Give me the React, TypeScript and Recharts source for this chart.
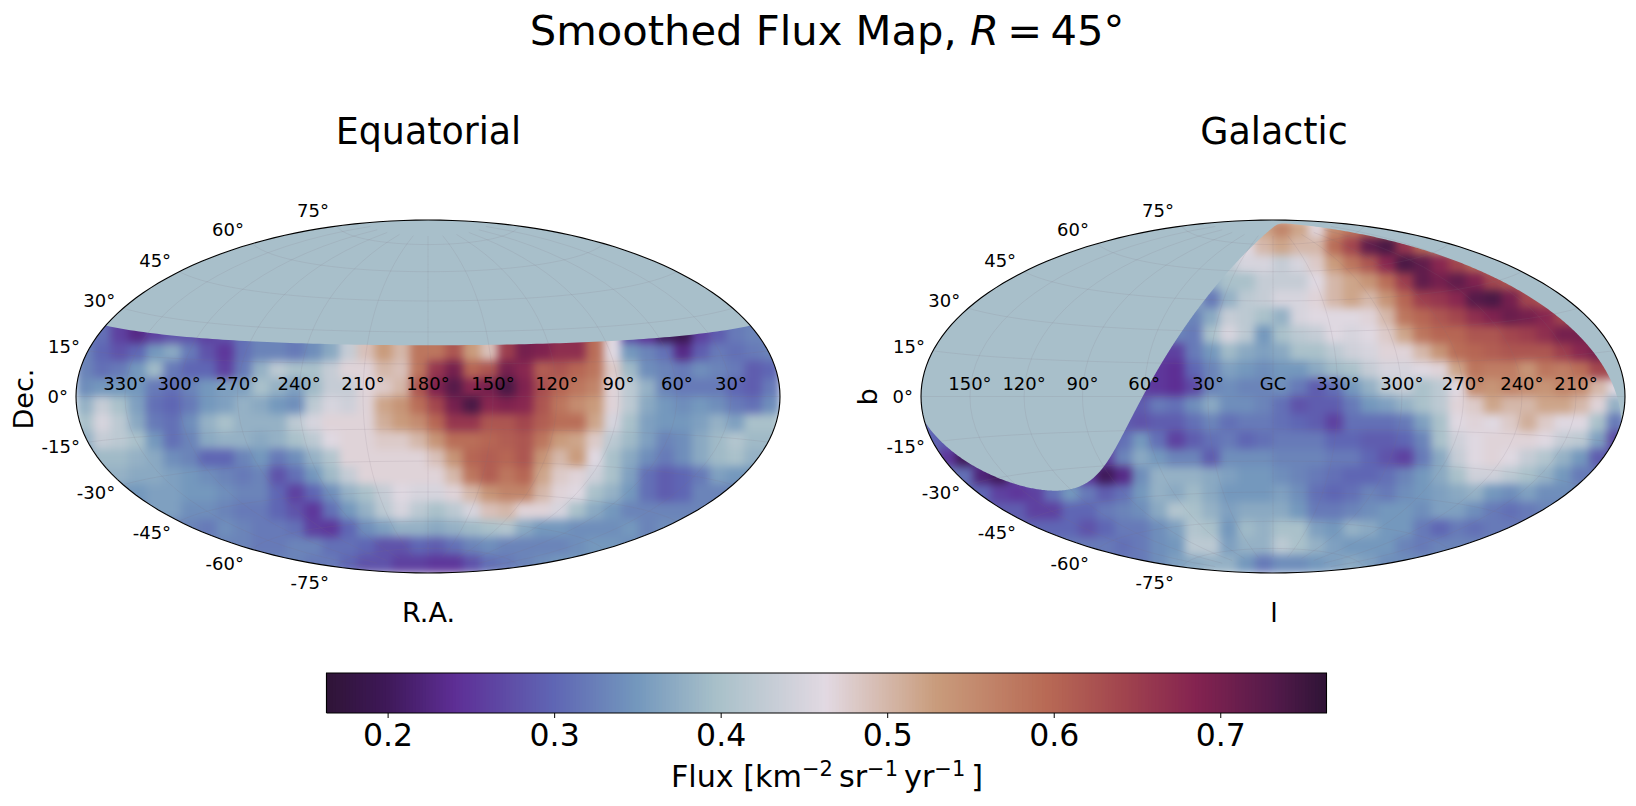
import { Scatter, ScatterChart, XAxis, YAxis } from "recharts";

const FONT = "'DejaVu Sans', sans-serif";

const EQUATORIAL_FLUX: number[][] = [
  [],
  [],
  [],
  [],
  [],
  [32, 31, 26, 23, 26, 28, 28, 26, 28, 31, 33, 33, 32, 34, 37, 43, 49, 53, 50, 58, 58, 62, 53, 49, 65, 70, 69, 67, 67, 59, 46, 27, 24, 20, 19, 26, 29, 32, 33, 33],
  [32, 31, 26, 23, 26, 28, 28, 26, 28, 31, 33, 33, 32, 34, 37, 43, 49, 53, 50, 58, 58, 62, 53, 49, 65, 70, 69, 67, 67, 59, 46, 27, 24, 20, 19, 26, 29, 32, 33, 33],
  [33, 30, 28, 30, 35, 37, 32, 28, 25, 31, 33, 33, 32, 34, 37, 43, 49, 53, 50, 58, 58, 62, 53, 49, 65, 70, 69, 67, 67, 59, 46, 35, 33, 31, 23, 29, 32, 31, 32, 33],
  [33, 31, 32, 35, 39, 32, 30, 30, 26, 32, 38, 42, 40, 40, 43, 47, 47, 50, 49, 58, 66, 70, 60, 62, 70, 68, 61, 62, 60, 58, 48, 39, 34, 33, 32, 34, 33, 32, 29, 30],
  [34, 35, 35, 35, 32, 31, 33, 35, 36, 36, 40, 38, 36, 39, 43, 43, 47, 48, 50, 62, 69, 73, 68, 70, 74, 69, 63, 60, 58, 56, 47, 42, 38, 33, 32, 32, 32, 30, 29, 32],
  [38, 43, 40, 36, 31, 30, 32, 35, 36, 38, 37, 35, 34, 42, 45, 44, 47, 52, 54, 59, 64, 70, 74, 68, 69, 68, 62, 58, 55, 53, 47, 42, 37, 35, 34, 35, 34, 32, 31, 34],
  [40, 45, 42, 37, 32, 31, 34, 38, 40, 38, 38, 38, 42, 45, 47, 47, 47, 51, 53, 55, 60, 66, 66, 62, 62, 64, 61, 59, 59, 52, 45, 40, 36, 35, 35, 36, 38, 36, 40, 40],
  [38, 43, 42, 40, 35, 31, 33, 37, 38, 38, 37, 38, 40, 42, 46, 47, 47, 48, 48, 50, 54, 59, 59, 60, 61, 62, 58, 53, 52, 48, 42, 39, 36, 33, 34, 37, 39, 41, 39, 39],
  [37, 39, 39, 38, 37, 34, 33, 30, 30, 33, 35, 32, 34, 38, 41, 47, 47, 47, 47, 47, 49, 54, 60, 61, 60, 62, 54, 50, 53, 46, 40, 37, 34, 32, 34, 37, 39, 40, 38, 38],
  [38, 38, 38, 37, 37, 36, 35, 34, 33, 32, 33, 28, 31, 35, 39, 43, 47, 47, 47, 47, 47, 50, 58, 61, 58, 60, 52, 48, 47, 44, 40, 36, 31, 29, 30, 32, 36, 35, 35, 35],
  [35, 35, 35, 35, 36, 36, 35, 35, 34, 33, 33, 30, 26, 30, 34, 38, 40, 43, 46, 45, 45, 47, 50, 54, 56, 56, 50, 47, 46, 40, 38, 35, 31, 29, 30, 33, 33, 33, 33, 33],
  [34, 34, 34, 34, 36, 36, 34, 34, 33, 32, 32, 30, 28, 25, 31, 35, 38, 42, 45, 42, 40, 42, 45, 49, 50, 47, 47, 45, 40, 37, 35, 33, 33, 33, 33, 33, 33, 33, 33, 33],
  [33, 33, 33, 33, 33, 33, 33, 32, 34, 33, 32, 32, 31, 26, 25, 30, 34, 36, 38, 38, 37, 38, 39, 40, 41, 37, 35, 35, 34, 34, 34, 35, 33, 34, 34, 34, 34, 34, 34, 34],
  [33, 33, 33, 33, 33, 33, 33, 33, 33, 33, 32, 32, 33, 33, 31, 31, 30, 28, 28, 30, 29, 31, 33, 34, 33, 33, 33, 33, 34, 35, 35, 34, 34, 34, 34, 34, 34, 34, 34, 34],
  [33, 33, 33, 33, 33, 33, 33, 33, 33, 33, 33, 33, 33, 32, 32, 30, 28, 28, 26, 26, 25, 25, 28, 31, 32, 33, 34, 35, 35, 35, 35, 35, 35, 35, 35, 35, 35, 35, 35, 35],
];

const GALACTIC_FLUX: number[][] = [
  [46, 46, 46, 46, 46, 46, 46, 46, 46, 46, 46, 46, 46, 46, 46, 46, 46, 46, 46, 52, 56, 52, 47, 55, 58, 60, 60, 60, 60, 60, 60, 60, 60, 60, 60, 60, 60, 60, 60, 60],
  [44, 44, 44, 44, 44, 44, 44, 44, 44, 44, 44, 44, 44, 44, 44, 44, 44, 44, 46, 50, 52, 50, 50, 59, 64, 72, 74, 66, 60, 55, 55, 55, 55, 55, 55, 55, 55, 55, 55, 55],
  [40, 40, 40, 40, 40, 40, 40, 40, 40, 40, 40, 40, 40, 40, 40, 40, 40, 42, 45, 45, 43, 45, 48, 53, 58, 62, 68, 74, 72, 68, 64, 60, 58, 56, 56, 56, 56, 56, 56, 56],
  [38, 38, 38, 38, 38, 38, 38, 38, 38, 38, 38, 38, 38, 38, 38, 38, 38, 40, 40, 43, 43, 43, 46, 50, 52, 54, 59, 65, 72, 70, 72, 69, 64, 62, 60, 58, 58, 58, 58, 58],
  [36, 36, 36, 36, 36, 36, 36, 36, 36, 36, 36, 36, 36, 36, 36, 38, 32, 38, 42, 43, 45, 45, 47, 50, 52, 50, 54, 60, 65, 66, 68, 73, 74, 70, 64, 62, 60, 60, 60, 60],
  [35, 35, 35, 35, 35, 35, 35, 35, 35, 35, 35, 35, 35, 35, 35, 33, 37, 43, 42, 40, 38, 45, 46, 46, 46, 47, 50, 58, 60, 62, 64, 67, 69, 71, 70, 68, 64, 62, 62, 62],
  [32, 32, 32, 32, 32, 32, 32, 32, 32, 32, 32, 32, 32, 32, 33, 32, 40, 45, 42, 35, 40, 42, 43, 46, 45, 46, 48, 52, 58, 60, 60, 62, 62, 64, 65, 67, 70, 70, 64, 60],
  [28, 28, 28, 28, 28, 28, 28, 28, 28, 28, 28, 28, 27, 26, 26, 32, 35, 39, 37, 36, 37, 40, 40, 42, 44, 45, 47, 47, 50, 54, 59, 60, 61, 62, 62, 62, 65, 68, 70, 62],
  [26, 26, 26, 26, 26, 26, 26, 26, 26, 26, 26, 26, 26, 25, 24, 30, 33, 36, 35, 34, 35, 35, 37, 39, 40, 43, 45, 45, 46, 47, 52, 58, 57, 57, 54, 58, 57, 59, 64, 64],
  [30, 30, 30, 30, 30, 30, 30, 30, 30, 30, 30, 30, 26, 25, 24, 27, 33, 34, 33, 33, 34, 32, 29, 31, 35, 38, 42, 43, 40, 42, 46, 55, 54, 56, 55, 54, 56, 55, 50, 46],
  [29, 29, 29, 29, 29, 29, 29, 29, 29, 29, 29, 29, 29, 32, 31, 34, 37, 34, 34, 33, 31, 28, 29, 29, 32, 35, 36, 38, 40, 42, 47, 48, 52, 50, 50, 52, 52, 50, 47, 38],
  [30, 30, 30, 30, 30, 30, 30, 30, 30, 30, 30, 29, 28, 29, 29, 31, 33, 31, 32, 32, 31, 30, 29, 26, 31, 31, 31, 32, 36, 40, 46, 47, 46, 48, 51, 48, 46, 46, 40, 32],
  [30, 29, 28, 28, 28, 28, 28, 28, 28, 28, 28, 31, 35, 31, 26, 29, 31, 32, 30, 31, 32, 32, 32, 30, 30, 29, 29, 30, 33, 40, 44, 46, 47, 47, 47, 46, 43, 42, 36, 27],
  [32, 25, 20, 25, 25, 25, 25, 25, 25, 29, 26, 33, 37, 35, 33, 33, 29, 34, 34, 34, 33, 33, 33, 32, 32, 30, 28, 26, 32, 37, 43, 46, 47, 46, 43, 41, 38, 35, 29, 28],
  [32, 32, 31, 22, 20, 26, 30, 30, 30, 25, 20, 23, 34, 38, 38, 38, 37, 36, 35, 35, 34, 33, 32, 31, 30, 30, 31, 33, 35, 37, 40, 44, 44, 42, 40, 38, 35, 32, 32, 32],
  [30, 30, 30, 30, 26, 25, 26, 31, 35, 32, 29, 31, 35, 38, 37, 39, 37, 35, 35, 35, 36, 34, 31, 30, 31, 33, 32, 34, 35, 36, 37, 38, 35, 34, 36, 34, 34, 34, 34, 34],
  [29, 29, 29, 29, 29, 29, 26, 26, 30, 30, 32, 33, 34, 37, 41, 40, 38, 36, 37, 37, 37, 35, 32, 32, 33, 34, 35, 35, 34, 36, 36, 34, 32, 31, 32, 33, 33, 33, 33, 33],
  [30, 30, 30, 30, 30, 30, 30, 30, 30, 28, 30, 32, 32, 34, 36, 41, 40, 35, 39, 38, 40, 40, 36, 35, 38, 37, 35, 35, 32, 30, 32, 31, 32, 32, 32, 32, 32, 32, 32, 32],
  [32, 32, 32, 32, 32, 32, 32, 32, 32, 32, 32, 31, 32, 34, 35, 42, 42, 36, 38, 38, 42, 40, 38, 36, 35, 35, 35, 33, 32, 33, 33, 33, 33, 33, 33, 33, 33, 33, 33, 33],
  [32, 32, 32, 32, 32, 32, 32, 32, 32, 32, 32, 32, 32, 34, 36, 37, 38, 38, 35, 32, 34, 34, 35, 36, 37, 36, 34, 34, 34, 34, 34, 34, 34, 34, 34, 34, 34, 34, 34, 34],
];

const EQUATORIAL_LON_LABELS = ["330°", "300°", "270°", "240°", "210°", "180°", "150°", "120°", "90°", "60°", "30°"];
const GALACTIC_LON_LABELS = ["150°", "120°", "90°", "60°", "30°", "GC", "330°", "300°", "270°", "240°", "210°"];
const LON_TICKS = [-150, -120, -90, -60, -30, 0, 30, 60, 90, 120, 150];
const LAT_TICKS = [75, 60, 45, 30, 15, 0, -15, -30, -45, -60, -75];
const COLORBAR_TICKS = [0.2, 0.3, 0.4, 0.5, 0.6, 0.7];

const FLUX_MIN = 0.163;
const FLUX_MAX = 0.7635;
const FOV_DEC_EQUATORIAL = 23.7;
const FOV_DEC_GALACTIC = 24.5;
const NO_DATA = "#a8bfca";
const GRID_COLOR = "rgba(120,110,120,0.13)";

// twilight_shifted, stops taken from the colorbar
const CMAP: [number, number[]][] = [
  [0, [47, 20, 54]],
  [0.06, [62, 24, 88]],
  [0.13, [94, 47, 150]],
  [0.228, [95, 102, 180]],
  [0.31, [115, 151, 189]],
  [0.39, [168, 192, 201]],
  [0.5, [226, 217, 226]],
  [0.61, [201, 156, 124]],
  [0.72, [184, 106, 85]],
  [0.8, [160, 67, 78]],
  [0.87, [132, 35, 80]],
  [0.95, [82, 26, 74]],
  [1, [47, 20, 54]],
];

function fluxColor(flux: number) {
  const t = Math.min(1, Math.max(0, (flux - FLUX_MIN) / (FLUX_MAX - FLUX_MIN)));
  let i = 0;
  while (i < CMAP.length - 2 && CMAP[i + 1][0] < t) i++;
  const [t0, c0] = CMAP[i];
  const [t1, c1] = CMAP[i + 1];
  const f = (t - t0) / (t1 - t0);
  return `rgb(${c0.map((c, k) => Math.round(c + (c1[k] - c) * f)).join(",")})`;
}

const RAD = Math.PI / 180;
const SQRT2 = Math.SQRT2;

function hammer(lon: number, lat: number) {
  const phi = lat * RAD;
  const lam = lon * RAD;
  const d = Math.sqrt(1 + Math.cos(phi) * Math.cos(lam / 2));
  return {
    x: (2 * SQRT2 * Math.cos(phi) * Math.sin(lam / 2)) / d,
    y: (SQRT2 * Math.sin(phi)) / d,
  };
}

function range(from: number, to: number, step: number) {
  const out: number[] = [];
  for (let v = from; step > 0 ? v <= to + 1e-9 : v >= to - 1e-9; v += step) out.push(v);
  return out;
}

const ellipse = [
  ...range(-90, 90, 2).map((b) => hammer(-180, b)),
  ...range(90, -90, -2).map((b) => hammer(180, b)),
];
ellipse.push(ellipse[0]);

const meridians = LON_TICKS.map((lon) => range(-80, 80, 4).map((b) => hammer(lon, b)));
const parallels = LAT_TICKS.map((lat) => range(-180, 180, 5).map((l) => hammer(l, lat)));

function closeOverTop(curve: { x: number; y: number }[], latLeft: number, latRight: number) {
  return [
    ...curve,
    ...range(latRight, 90, 2).map((b) => hammer(180, b)),
    ...range(90, latLeft, -2).map((b) => hammer(-180, b)),
  ];
}

const equatorialMask = closeOverTop(
  range(-180, 180, 3).map((l) => hammer(l, FOV_DEC_EQUATORIAL)),
  FOV_DEC_EQUATORIAL,
  FOV_DEC_EQUATORIAL
);

// same declination limit carried over to galactic coordinates
function buildGalacticMask() {
  const sd = Math.sin(FOV_DEC_GALACTIC * RAD);
  const cd = Math.cos(FOV_DEC_GALACTIC * RAD);
  const sg = Math.sin(27.13 * RAD);
  const cg = Math.cos(27.13 * RAD);
  const pts = range(0, 359.5, 0.5).map((a) => {
    const da = (a - 192.86) * RAD;
    const b = Math.asin(sd * sg + cd * cg * Math.cos(da)) / RAD;
    let l = 122.93 - Math.atan2(cd * Math.sin(da), sd * cg - cd * sg * Math.cos(da)) / RAD;
    l = ((l + 540) % 360) - 180;
    return { lon: -l, lat: b };
  });
  let jump = 0;
  pts.forEach((p, i) => {
    const prev = pts[(i + pts.length - 1) % pts.length];
    if (Math.abs(p.lon - prev.lon) > 180) jump = i;
  });
  let curve = [...pts.slice(jump), ...pts.slice(0, jump)];
  if (curve[0].lon > 0) curve = curve.reverse();
  return closeOverTop(
    curve.map((p) => hammer(p.lon, p.lat)),
    curve[0].lat,
    curve[curve.length - 1].lat
  );
}
const galacticMask = buildGalacticMask();

const COLS = 40;
const ROWS = 20;
const PX_X = 124.45;
const PX_Y = 124.8;
const PAD_X = 3.02;
const PAD_Y = 1.604;
const CELL_W = (4 * SQRT2 * PX_X) / COLS + 1;
const CELL_H = (2 * SQRT2 * PX_Y) / ROWS + 1;

// outer box wound against the ellipse so the fill leaves a hole for the map
const frame = [
  { x: -PAD_X, y: -PAD_Y },
  { x: PAD_X, y: -PAD_Y },
  { x: PAD_X, y: PAD_Y },
  { x: -PAD_X, y: PAD_Y },
  { x: -PAD_X, y: -PAD_Y },
  ...ellipse,
  { x: -PAD_X, y: -PAD_Y },
];

function toCells(rows: number[][]) {
  return rows.flatMap((row, i) =>
    row.map((v, j) => ({
      x: -2 * SQRT2 + (4 * SQRT2 * (j + 0.5)) / COLS,
      y: SQRT2 - (2 * SQRT2 * (i + 0.5)) / ROWS,
      flux: v / 100,
    }))
  );
}

const noPoint = () => <g />;

const CellShape = (p: any) => (
  <rect x={p.cx - CELL_W / 2} y={p.cy - CELL_H / 2} width={CELL_W} height={CELL_H} fill={fluxColor(p.payload.flux)} />
);

const LonLabel = (p: any) => (
  <text x={p.cx} y={p.cy - 13} textAnchor="middle" dominantBaseline="central" fontSize={18} fontFamily={FONT} fill="#000">
    {p.payload.label}
  </text>
);

const LatLabel = (p: any) => (
  <text
    x={p.cx - 8}
    y={p.cy - 16.5 * Math.sin(p.payload.lat * RAD)}
    textAnchor="end"
    dominantBaseline="central"
    fontSize={18}
    fontFamily={FONT}
    fill="#000"
  >
    {p.payload.label}
  </text>
);

function SkyMap({
  left,
  rows,
  mask,
  lonLabels,
}: {
  left: number;
  rows: number[][];
  mask: { x: number; y: number }[];
  lonLabels: string[];
}) {
  const plotW = 2 * PAD_X * PX_X;
  const plotH = 2 * PAD_Y * PX_Y;
  const chartW = 840;
  const chartH = 470;
  const centreX = 420;
  const centreY = 396.5 - 160;
  const lonData = LON_TICKS.map((lon, i) => ({ ...hammer(lon, 0), label: lonLabels[i] }));
  const latData = LAT_TICKS.map((lat) => ({ ...hammer(-180, lat), lat, label: `${lat}°` }));
  return (
    <div style={{ position: "absolute", left, top: 160 }}>
      <ScatterChart
        width={chartW}
        height={chartH}
        margin={{
          left: centreX - plotW / 2,
          right: chartW - centreX - plotW / 2,
          top: centreY - plotH / 2,
          bottom: chartH - centreY - plotH / 2,
        }}
      >
        <XAxis type="number" dataKey="x" domain={[-PAD_X, PAD_X]} hide />
        <YAxis type="number" dataKey="y" domain={[-PAD_Y, PAD_Y]} hide />
        <Scatter className="flux-cells" data={toCells(rows)} shape={CellShape} isAnimationActive={false} />
        <Scatter data={mask} shape={noPoint} line={{ fill: NO_DATA, stroke: "none" }} isAnimationActive={false} />
        <Scatter data={frame} shape={noPoint} line={{ fill: "#fff", stroke: "none" }} isAnimationActive={false} />
        {meridians.map((pts, i) => (
          <Scatter key={`m${i}`} data={pts} shape={noPoint} line={{ stroke: GRID_COLOR, strokeWidth: 1, fill: "none" }} isAnimationActive={false} />
        ))}
        {parallels.map((pts, i) => (
          <Scatter key={`p${i}`} data={pts} shape={noPoint} line={{ stroke: GRID_COLOR, strokeWidth: 1, fill: "none" }} isAnimationActive={false} />
        ))}
        <Scatter data={ellipse} shape={noPoint} line={{ stroke: "#000", strokeWidth: 1.1, fill: "none" }} isAnimationActive={false} />
        <Scatter data={lonData} shape={LonLabel} isAnimationActive={false} />
        <Scatter data={latData} shape={LatLabel} isAnimationActive={false} />
      </ScatterChart>
    </div>
  );
}

const colorbarLevels = range(FLUX_MIN + 0.001, FLUX_MAX - 0.001, 0.002).map((flux) => ({ flux, y: 0.5 }));
const colorbarBox = [
  { flux: FLUX_MIN, y: 0 },
  { flux: FLUX_MIN, y: 1 },
  { flux: FLUX_MAX, y: 1 },
  { flux: FLUX_MAX, y: 0 },
  { flux: FLUX_MIN, y: 0 },
];

const ColorbarCell = (p: any) => (
  <rect x={p.cx - 2.2} y={p.cy - 20} width={4.4} height={40} fill={fluxColor(p.payload.flux)} />
);

function Colorbar() {
  return (
    <div style={{ position: "absolute", left: 300, top: 660 }}>
      <ScatterChart width={1060} height={115} margin={{ left: 26.5, right: 33.5, top: 13, bottom: 0 }}>
        <XAxis
          type="number"
          dataKey="flux"
          domain={[FLUX_MIN, FLUX_MAX]}
          ticks={COLORBAR_TICKS}
          interval={0}
          height={62}
          axisLine={false}
          tickSize={5}
          tickMargin={6}
          tickLine={{ stroke: "#000" }}
          tick={{ fill: "#000", fontSize: 31.5, fontFamily: FONT }}
          tickFormatter={(v: number) => v.toFixed(1)}
        />
        <YAxis type="number" dataKey="y" domain={[0, 1]} hide />
        <Scatter data={colorbarLevels} shape={ColorbarCell} isAnimationActive={false} />
        <Scatter data={colorbarBox} shape={noPoint} line={{ stroke: "#000", strokeWidth: 1.1, fill: "none" }} isAnimationActive={false} />
      </ScatterChart>
    </div>
  );
}

function Sup({ children }: { children: string }) {
  return (
    <>
      <tspan dy={-11} fontSize={21}>
        {children}
      </tspan>
      <tspan dy={11}>{"\u2009"}</tspan>
    </>
  );
}

export default function App() {
  return (
    <div style={{ position: "absolute", left: 0, top: 0, width: 1636, height: 806, background: "#fff", overflow: "hidden" }}>
      <style>{`.flux-cells { filter: blur(4.5px); }`}</style>
      <SkyMap left={8} rows={EQUATORIAL_FLUX} mask={equatorialMask} lonLabels={EQUATORIAL_LON_LABELS} />
      <SkyMap left={853} rows={GALACTIC_FLUX} mask={galacticMask} lonLabels={GALACTIC_LON_LABELS} />
      <Colorbar />
      <svg width={1636} height={806} style={{ position: "absolute", left: 0, top: 0, pointerEvents: "none" }} fontFamily={FONT} fill="#000">
        <text x={827} y={45} textAnchor="middle" fontSize={41.67}>
          Smoothed Flux Map, <tspan fontStyle="italic">R</tspan>{"\u2009"}={"\u2009"}45°
        </text>
        <text x={428.5} y={144} textAnchor="middle" fontSize={36.4}>Equatorial</text>
        <text x={1274} y={144} textAnchor="middle" fontSize={36.4}>Galactic</text>
        <text x={428.5} y={622} textAnchor="middle" fontSize={27}>R.A.</text>
        <text x={1274} y={622} textAnchor="middle" fontSize={27}>l</text>
        <text transform="translate(33,399) rotate(-90)" textAnchor="middle" fontSize={27}>Dec.</text>
        <text transform="translate(877,397) rotate(-90)" textAnchor="middle" fontSize={27}>b</text>
        <text x={827} y={787} textAnchor="middle" fontSize={30.2}>
          Flux [km<Sup>−2</Sup>sr<Sup>−1</Sup>yr<Sup>−1</Sup>]
        </text>
      </svg>
    </div>
  );
}
